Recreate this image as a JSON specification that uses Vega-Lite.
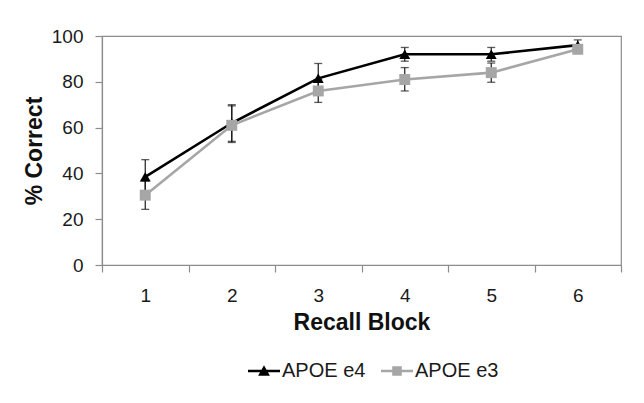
{
  "$schema": "https://vega.github.io/schema/vega-lite/v6.json",
  "width": 519,
  "height": 229,
  "autosize": {"type": "none"},
  "padding": {"left": 102, "top": 36, "right": 23, "bottom": 138},
  "background": "white",
  "config": {
    "font": "Liberation Sans",
    "view": {"stroke": "#8c8c8c", "strokeWidth": 1.2},
    "axis": {"grid": false, "domainColor": "#8c8c8c", "tickColor": "#8c8c8c", "domainWidth": 1.2, "tickWidth": 1.2, "labelColor": "#1a1a1a", "titleColor": "#111"}
  },
  "data": {
    "values": [
      {"group": "APOE e4", "block": 1, "mean": 38.5, "lo": 31, "hi": 46},
      {"group": "APOE e4", "block": 2, "mean": 62, "lo": 54, "hi": 70},
      {"group": "APOE e4", "block": 3, "mean": 81.5, "lo": 75, "hi": 88},
      {"group": "APOE e4", "block": 4, "mean": 92, "lo": 89, "hi": 95},
      {"group": "APOE e4", "block": 5, "mean": 92, "lo": 89, "hi": 95},
      {"group": "APOE e4", "block": 6, "mean": 96, "lo": 94, "hi": 98.3},
      {"group": "APOE e3", "block": 1, "mean": 30.5, "lo": 24.3, "hi": 36.7},
      {"group": "APOE e3", "block": 2, "mean": 61, "lo": 53.5, "hi": 69.5},
      {"group": "APOE e3", "block": 3, "mean": 76, "lo": 71, "hi": 81},
      {"group": "APOE e3", "block": 4, "mean": 81, "lo": 76, "hi": 86.2},
      {"group": "APOE e3", "block": 5, "mean": 84, "lo": 79.8, "hi": 88.2},
      {"group": "APOE e3", "block": 6, "mean": 94.2, "lo": 92.5, "hi": 95.9}
    ]
  },
  "encoding": {
    "x": {
      "field": "block", "type": "ordinal",
      "scale": {"type": "band", "paddingInner": 0, "paddingOuter": 0},
      "axis": {"labelAngle": 0, "tickBand": "extent", "tickSize": 7, "labelFontSize": 19, "labelPadding": 14, "title": "Recall Block", "titleFontSize": 23, "titleFontWeight": "bold", "titlePadding": 6}
    }
  },
  "layer": [
    {
      "mark": {"type": "line", "strokeWidth": 2.6},
      "encoding": {
        "y": {"field": "mean", "type": "quantitative", "scale": {"domain": [0, 100]},
          "axis": {"values": [0, 20, 40, 60, 80, 100], "tickSize": 7, "labelFontSize": 19, "labelPadding": 12, "title": "% Correct", "titleFontSize": 23, "titleFontWeight": "bold", "titlePadding": 5}},
        "color": {
          "field": "group", "type": "nominal", "sort": ["APOE e4", "APOE e3"],
          "scale": {"domain": ["APOE e4", "APOE e3"], "range": ["#000000", "#a6a6a6"]},
          "legend": {
            "title": null, "orient": "none", "direction": "horizontal",
            "legendX": 146, "legendY": 319,
            "labelFontSize": 20, "labelColor": "#1a1a1a", "labelOffset": 2,
            "symbolSize": 1024, "symbolStrokeWidth": 0, "columnPadding": 15,
            "encode": {"symbols": {"update": {
              "shape": {"signal": "datum.value === 'APOE e4' ? 'M-1,-0.08H1V0.08H-1ZM0,-0.36L0.37,0.3L-0.37,0.3Z' : 'M-1,-0.08H1V0.08H-1ZM-0.3,-0.3H0.3V0.3H-0.3Z'"},
              "fill": {"signal": "datum.value === 'APOE e4' ? '#000000' : '#a6a6a6'"},
              "fillOpacity": {"value": 1},
              "strokeWidth": {"value": 0}
            }}}
          }
        }
      }
    },
    {
      "mark": {"type": "rule", "color": "#1a1a1a", "strokeWidth": 1.2},
      "encoding": {"y": {"field": "lo", "type": "quantitative"}, "y2": {"field": "hi"}}
    },
    {
      "mark": {"type": "tick", "color": "#1a1a1a", "thickness": 1.3, "size": 8},
      "encoding": {"y": {"field": "lo", "type": "quantitative"}}
    },
    {
      "mark": {"type": "tick", "color": "#1a1a1a", "thickness": 1.3, "size": 8},
      "encoding": {"y": {"field": "hi", "type": "quantitative"}}
    },
    {
      "mark": {"type": "point", "filled": true, "opacity": 1, "size": 120},
      "encoding": {
        "y": {"field": "mean", "type": "quantitative"},
        "color": {"field": "group", "type": "nominal"},
        "shape": {"condition": {"test": "datum.group === 'APOE e4'", "value": "triangle-up"}, "value": "square"}
      }
    }
  ]
}
